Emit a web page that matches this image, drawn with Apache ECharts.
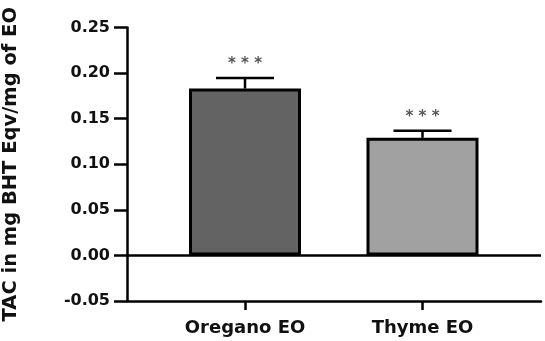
<!DOCTYPE html>
<html>
<head>
<meta charset="utf-8">
<script src="https://cdn.jsdelivr.net/npm/echarts@6/dist/echarts.min.js"></script>
<style>html,body{margin:0;padding:0;background:#fff;}#c{width:545px;height:341px;}</style>
</head>
<body>
<div id="c"></div>
<script>
const categories = ['Oregano EO', 'Thyme EO'];
const means = [0.183, 0.129];
const errors = [0.0115, 0.0077];
const significance = ['* * *', '* * *'];
const barColors = ['#636363', '#a1a1a1'];
const yTicks = { min: -0.05, max: 0.25, interval: 0.05 };
const yTitle = 'TAC in mg BHT Eqv/mg of EO';

const FONT = 'DejaVu Sans';
const chart = echarts.init(document.getElementById('c'), null, { renderer: 'canvas' });
const gridTop = 27.5, gridBottom = 40;
chart.setOption({
  animation: false,
  grid: [
    { left: 127, right: 4, top: gridTop, bottom: gridBottom, containLabel: false, outerBoundsMode: 'none' },
    { left: 156.25, right: 33.75, top: gridTop, bottom: gridBottom, containLabel: false, outerBoundsMode: 'none' }
  ],
  xAxis: [
    { gridIndex: 0, type: 'value', min: 0, max: 1,
      axisLine: { show: true, onZero: false, lineStyle: { color: '#000', width: 2.5 } },
      axisTick: { show: false }, axisLabel: { show: false }, splitLine: { show: false } },
    { gridIndex: 1, type: 'category', data: categories,
      axisLine: { show: false, onZero: false },
      axisTick: { show: true, alignWithLabel: true, length: 9, lineStyle: { color: '#000', width: 2.5 } },
      axisLabel: { margin: 18, color: '#111', fontFamily: FONT, fontWeight: 'bold', fontSize: 18 } }
  ],
  yAxis: [
    { gridIndex: 0, type: 'value', min: yTicks.min, max: yTicks.max, interval: yTicks.interval,
      name: yTitle, nameLocation: 'middle', nameGap: 106,
      nameTextStyle: { color: '#111', fontFamily: FONT, fontWeight: 'bold', fontSize: 19.5 },
      axisLine: { show: true, onZero: false, lineStyle: { color: '#000', width: 2.5 } },
      axisTick: { show: true, length: 13, lineStyle: { color: '#000', width: 2.5 } },
      axisLabel: { margin: 17, color: '#111', fontFamily: FONT, fontWeight: 'bold', fontSize: 16,
        formatter: v => v.toFixed(2) },
      splitLine: { show: false } },
    { gridIndex: 1, type: 'value', min: yTicks.min, max: yTicks.max, interval: yTicks.interval, show: false }
  ],
  series: [
    { type: 'line', xAxisIndex: 0, yAxisIndex: 0, data: [], silent: true,
      markLine: { symbol: 'none', silent: true, label: { show: false },
        lineStyle: { color: '#000', width: 2.5, type: 'solid' },
        data: [{ yAxis: 0 }] } },
    { type: 'bar', xAxisIndex: 1, yAxisIndex: 1, barWidth: 112,
      data: means.map((v, i) => ({ value: v, itemStyle: { color: barColors[i] } })),
      itemStyle: { borderColor: '#000', borderWidth: 3 } },
    { type: 'custom', xAxisIndex: 1, yAxisIndex: 1, z: 5,
      data: means.map((v, i) => [i, v, errors[i]]),
      renderItem: function (params, api) {
        const x = api.value(0), m = api.value(1), e = api.value(2);
        const p0 = api.coord([x, m]);
        const p1 = api.coord([x, m + e]);
        const hw = 29;
        return { type: 'group', children: [
          { type: 'line', shape: { x1: p0[0], y1: p0[1], x2: p1[0], y2: p1[1] }, style: { stroke: '#000', lineWidth: 2.5 } },
          { type: 'line', shape: { x1: p1[0] - hw, y1: p1[1], x2: p1[0] + hw, y2: p1[1] }, style: { stroke: '#000', lineWidth: 2.5 } },
          { type: 'text', x: p1[0], y: p1[1] - 14, style: { text: significance[params.dataIndex], fill: '#555',
            font: 'bold 15px "DejaVu Sans"', align: 'center', verticalAlign: 'middle' } }
        ] };
      } }
  ]
});
</script>
</body>
</html>
